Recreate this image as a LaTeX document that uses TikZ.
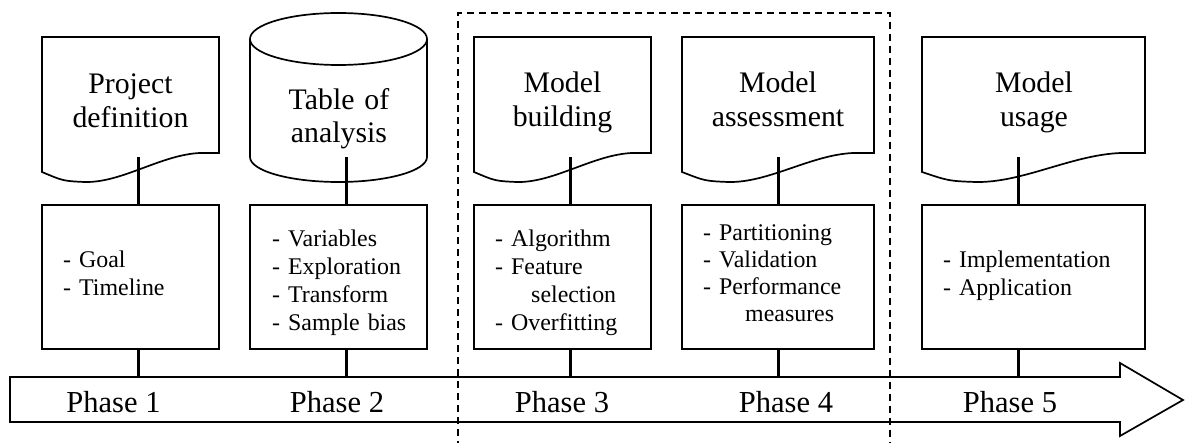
\documentclass[tikz,border=0pt]{standalone}
\usepackage{fontspec}
\setmainfont{Liberation Serif}
\begin{document}
\begin{tikzpicture}[x=1pt,y=-1pt,
  outline/.style={line width=1.7pt, line join=miter},
  link/.style={line width=3pt},
  phasegroup/.style={line width=1.4pt, dash pattern=on 7pt off 5pt},
  listbox/.style={draw, line width=1.7pt, rectangle, inner sep=0pt, minimum height=144pt},
  heading/.style={inner sep=0pt, text width=220pt, align=center, anchor=base,
    font=\fontsize{29.8}{34}\selectfont},
  itemlist/.style={inner sep=0pt, text width=200pt, align=left, anchor=base west,
    font=\fontsize{23.9}{27.7}\selectfont},
  phaselabel/.style={inner sep=0pt, anchor=base, font=\fontsize{30.5}{34}\selectfont}]

\useasboundingbox (0,0) rectangle (1187,443);

% document shapes (flat top, wavy bottom)
\foreach \l/\r in {42/219, 474/651, 682/874, 922/1145}{
  \draw[outline] (\l,37) -- (\r,37) -- (\r,153) -- ({\r-0.11*(\r-\l)},153)
    .. controls ({\r-0.33*(\r-\l)},155) and ({\l+0.45*(\r-\l)},183) .. ({\l+0.24*(\r-\l)},182)
    .. controls ({\l+0.12*(\r-\l)},181) .. (\l,172) -- cycle;
}

% data store cylinder
\draw[outline] (250,39) -- (250,157)
  arc[start angle=180, end angle=360, x radius=88.5pt, y radius=25pt] -- (427,39);
\draw[outline] (338.5,39) ellipse [x radius=88.5pt, y radius=26pt];

% headings
\node[heading] (h1) at (130.5,94) {Project\\definition};
\node[heading, font=\fontsize{29.8}{33}\selectfont] (h2) at (339,110) {Table of\\analysis};
\node[heading] (h3) at (562.5,93) {Model\\building};
\node[heading] (h4) at (778,93) {Model\\assessment};
\node[heading] (h5) at (1034,93) {Model\\usage};

% detail boxes
\node[listbox, minimum width=177pt] (b1) at (130.5,277) {};
\node[listbox, minimum width=177pt] (b2) at (338.5,277) {};
\node[listbox, minimum width=177pt] (b3) at (562.5,277) {};
\node[listbox, minimum width=192pt] (b4) at (778,277) {};
\node[listbox, minimum width=223pt] (b5) at (1033.5,277) {};

\node[itemlist] (t1) at (63,268) {- Goal\\- Timeline};
\node[itemlist] (t2) at (272,247) {- Variables\\- Exploration\\- Transform\\- Sample bias};
\node[itemlist] (t3) at (495,247) {- Algorithm\\- Feature\\\hspace*{36pt}selection\\- Overfitting};
\node[itemlist, font=\fontsize{23.9}{27}\selectfont] (t4) at (703,241)
  {- Partitioning\\- Validation\\- Performance\\\hspace*{42pt}measures};
\node[itemlist] (t5) at (943,268) {- Implementation\\- Application};

% timeline arrow
\draw[outline] (10,377) -- (1120,377) -- (1120,363) -- (1183,400) -- (1120,436)
  -- (1120,422) -- (10,422) -- cycle;
\coordinate (atop) at (10,377);

\node[phaselabel] (p1) at (113.5,413) {Phase 1};
\node[phaselabel] (p2) at (337,413) {Phase 2};
\node[phaselabel] (p3) at (562,413) {Phase 3};
\node[phaselabel] (p4) at (786,413) {Phase 4};
\node[phaselabel] (p5) at (1010,413) {Phase 5};

% connectors: shape -> box -> timeline
\coordinate (c1) at (138.5,157);
\coordinate (c2) at (346.5,157);
\coordinate (c3) at (570.5,157);
\coordinate (c4) at (778,157);
\coordinate (c5) at (1018,157);
\foreach \i in {1,...,5}{
  \draw[link] (c\i) -- (b\i.north -| c\i);
  \draw[link] (b\i.south -| c\i) -- (c\i |- atop);
}

% modelling phases group
\draw[phasegroup] (458,460) -- (458,13) -- (890,13) -- (890,460);
\end{tikzpicture}
\end{document}
